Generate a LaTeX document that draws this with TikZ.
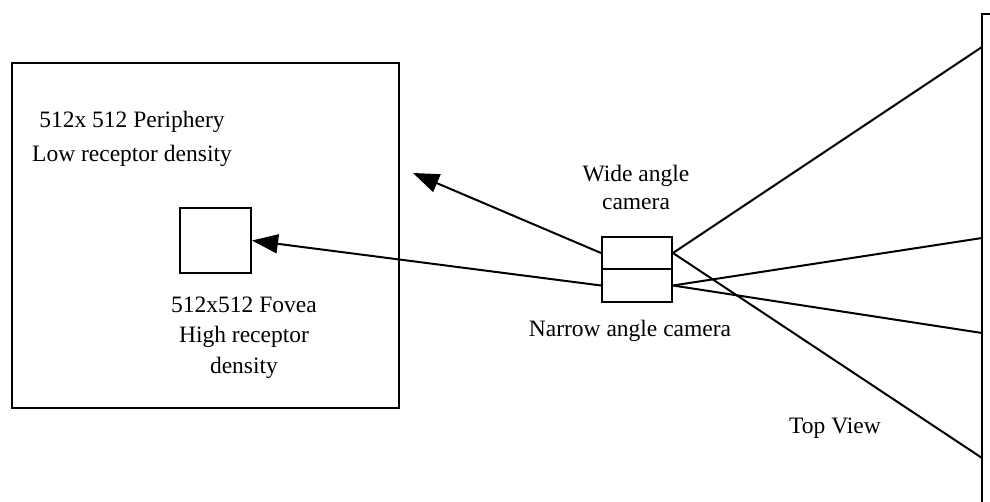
\documentclass[tikz,border=0pt]{standalone}
\usepackage{fontspec}
\setmainfont{Liberation Serif}
\usetikzlibrary{arrows.meta}
\begin{document}
\begin{tikzpicture}[x=1pt,y=-1pt,
  line width=2pt,
  box/.style={draw, rectangle, inner sep=0pt},
  lbl/.style={inner sep=0pt, anchor=base, align=center},
  arr/.style={-{Triangle[length=26pt,width=19pt]}},
  every node/.style={font=\fontsize{23.5}{30}\selectfont}]
\useasboundingbox (0,0) rectangle (990,502);
% periphery box
\node[box, minimum width=387pt, minimum height=345pt] (per) at (205.5,235.5) {};
\node[box, minimum width=71pt, minimum height=65pt] (fov) at (215.5,240.5) {};
\node[lbl, font=\fontsize{23.5}{34}\selectfont] (pertxt) at (132,162) {512x 512 Periphery\\Low receptor density};
\node[lbl] (fovtxt) at (244,373) {512x512 Fovea\\High receptor\\density};
% cameras
\node[box, minimum width=70pt, minimum height=32pt] (wide) at (637,253) {};
\node[box, minimum width=70pt, minimum height=33pt] (narrow) at (637,285.5) {};
\node[lbl, font=\fontsize{23.5}{28}\selectfont] (widetxt) at (636,210) {Wide angle\\camera};
\node[lbl] (narrowtxt) at (630,337) {Narrow angle camera};
\node[lbl] (toptxt) at (835,433) {Top View};
% arrows
\coordinate (ptip) at (413,173);
\draw[arr] (wide.west) -- (ptip);
\draw[arr] (narrow.west) -- (fov.east);
% screen
\coordinate (s1) at (982,47);
\coordinate (s2) at (982,238);
\coordinate (s3) at (982,333);
\coordinate (s4) at (982,458);
\coordinate (stop) at (982,14);
\coordinate (sbot) at (982,502);
\coordinate (sright) at (990,14);
\draw (sbot) -- (stop) -- (sright);
\draw (wide.east) -- (s1);
\draw (wide.east) -- (s4);
\draw (narrow.east) -- (s2);
\draw (narrow.east) -- (s3);
\end{tikzpicture}
\end{document}
